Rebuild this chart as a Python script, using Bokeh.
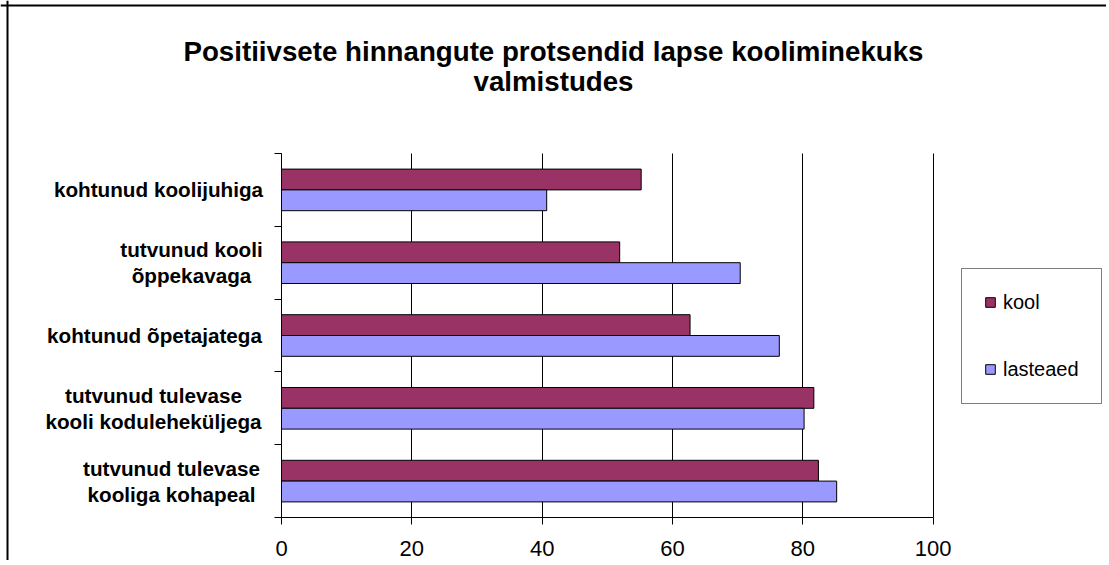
from bokeh.plotting import figure
from bokeh.models import Range1d, FixedTicker, Label, Legend, LegendItem, ColumnDataSource, Span
from bokeh.embed import file_html
from bokeh.resources import INLINE

# ---- data (bottom to top) ----
categories = [
    "tutvunud tulevase\nkooliga kohapeal",
    "tutvunud tulevase\nkooli koduleheküljega",
    "kohtunud õpetajatega",
    "tutvunud kooli\nõppekavaga",
    "kohtunud koolijuhiga",
]
kool = [82.4, 81.7, 62.7, 51.9, 55.2]
lasteaed = [85.2, 80.2, 76.4, 70.4, 40.7]
series_names = ["kool", "lasteaed"]
x_ticks = [0, 20, 40, 60, 80, 100]
title_lines = ["Positiivsete hinnangute protsendid lapse kooliminekuks", "valmistudes"]

# ---- layout (page pixel geometry) ----
FONT = "Liberation Sans"
COLORS = ["#993366", "#9999FF"]
CANVAS_L, CANVAS_T, CANVAS_R, CANVAS_B = 0, 0, 1106, 560
PLOT_L, PLOT_T = 281, 153          # page px of value 0 / top of category band
PX_PER_UNIT = 6.516
CAT_PX = 72.8
N = len(categories)

def px_x(px):
    return (px - PLOT_L) / PX_PER_UNIT

def px_y(py):
    return N - (py - PLOT_T) / CAT_PX

p = figure(
    output_backend="svg", toolbar_location=None, title=None,
    frame_width=CANVAS_R - CANVAS_L, frame_height=CANVAS_B - CANVAS_T,
    min_border=0,
    x_range=Range1d(px_x(CANVAS_L), px_x(CANVAS_R)),
    y_range=Range1d(px_y(CANVAS_B), px_y(CANVAS_T)),
    background_fill_color="white", border_fill_color="white",
    outline_line_color=None,
)

# chart-area border (left and top edges only, as in the reference)
p.add_layout(Span(location=px_x(7), dimension="height", line_color="black", line_width=2))
p.add_layout(Span(location=px_y(5), dimension="width", line_color="black", line_width=2))

BAR_H = 1 / 3.5
src = ColumnDataSource(dict(
    y_kool=[i + 0.5 + BAR_H / 2 for i in range(N)],
    y_last=[i + 0.5 - BAR_H / 2 for i in range(N)],
    kool=kool, lasteaed=lasteaed,
))

# grid (vertical lines only inside the category band)
p.xgrid.ticker = FixedTicker(ticks=x_ticks)
p.xgrid.grid_line_color = "black"
p.xgrid.grid_line_width = 1
p.xgrid.cross_bounds = (0, N)
p.xgrid.bounds = (x_ticks[0], x_ticks[-1])
p.ygrid.visible = False

r1 = p.hbar(y="y_kool", right="kool", left=0, height=BAR_H, source=src,
            fill_color=COLORS[0], line_color="black", line_width=1)
r2 = p.hbar(y="y_last", right="lasteaed", left=0, height=BAR_H, source=src,
            fill_color=COLORS[1], line_color="black", line_width=1)

# x axis pinned at y = 0
xa = p.xaxis[0]
xa.fixed_location = 0
xa.bounds = (x_ticks[0], x_ticks[-1])
xa.ticker = FixedTicker(ticks=x_ticks)
xa.major_tick_out = 7
xa.major_tick_in = 0
xa.minor_tick_line_color = None
xa.axis_line_color = "black"
xa.major_tick_line_color = "black"
xa.major_label_text_font = FONT
xa.major_label_text_font_size = "22px"
xa.major_label_text_color = "black"
xa.major_label_standoff = 16

# y axis pinned at x = 0: ticks at category boundaries, no labels
ya = p.yaxis[0]
ya.fixed_location = 0
ya.bounds = (0, N)
ya.ticker = FixedTicker(ticks=list(range(N + 1)))
ya.major_tick_out = 7
ya.major_tick_in = 0
ya.minor_tick_line_color = None
ya.axis_line_color = "black"
ya.major_tick_line_color = "black"
ya.major_label_text_font_size = "0px"

# category labels (block centres)
label_cx = [171, 153, 154, 191, 158]
for i, txt in enumerate(categories):
    p.add_layout(Label(
        x=px_x(label_cx[i]), y=i + 0.5, text=txt,
        text_align="center", text_baseline="middle",
        text_font=FONT, text_font_style="bold", text_font_size="20.7px",
        text_line_height=1.13, text_color="black",
    ))

# title
title_base = [51, 80.7]
for txt, by in zip(title_lines, title_base):
    p.add_layout(Label(
        x=px_x(553), y=px_y(by), text=txt,
        text_align="center", text_baseline="alphabetic",
        text_font=FONT, text_font_style="bold", text_font_size="27.7px",
        text_color="black",
    ))

legend = Legend(
    items=[LegendItem(label=series_names[0], renderers=[r1]),
           LegendItem(label=series_names[1], renderers=[r2])],
    location=(961 - CANVAS_L, CANVAS_B - 403.5),
    margin=0, padding=22, spacing=44,
    glyph_width=12, glyph_height=12, label_height=20, label_standoff=7,
    label_text_font=FONT, label_text_font_size="20px", label_text_color="black",
    border_line_color="black", border_line_width=1,
    background_fill_color="white", background_fill_alpha=1,
)
p.add_layout(legend)

open("out.html", "w").write(file_html(p, INLINE))
